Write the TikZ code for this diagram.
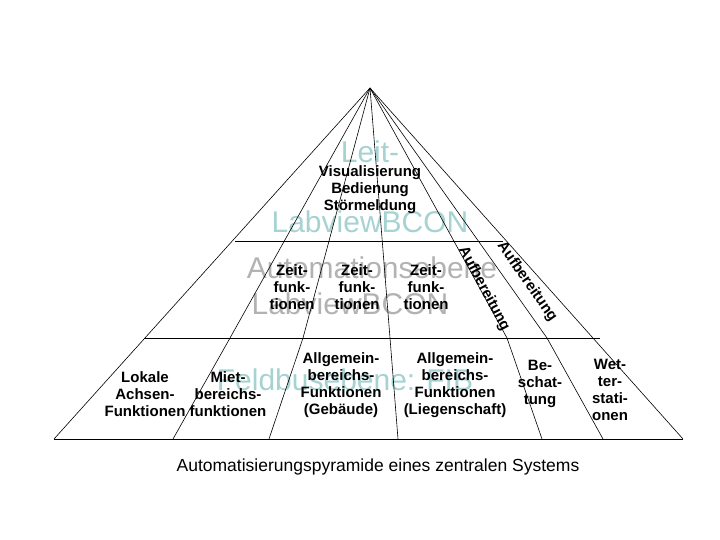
\documentclass[tikz,border=0pt]{standalone}
\usepackage{fontspec}
\setmainfont{Liberation Sans}
\begin{document}
\begin{tikzpicture}[x=1pt,y=-1pt,
  ln/.style={black,line width=0.6pt},
  bt/.style={font=\fontsize{15}{17}\selectfont\bfseries,align=center,inner sep=0},
  wmT/.style={text=teal!35,font=\fontsize{30}{30}\selectfont,inner sep=0},
  wmG/.style={text=black!30,font=\fontsize{30}{30}\selectfont,inner sep=0}]
\useasboundingbox (0,0) rectangle (720,540);
% watermarks
\node[wmT] (w1) at (370,152) {Leit-};
\node[wmT] (w2) at (370,222) {LabviewBCON};
\node[wmG] (w3) at (372,268) {Automationsebene};
\node[wmG] (w4) at (350,304) {LabviewBCON};
\node[wmT] (w5) at (345,380) {Feldbusebene: FIB};
% pyramid
\coordinate (A) at (370,88);
\coordinate (L1) at (235,241); \coordinate (R1) at (503,241);
\coordinate (L2) at (144,338); \coordinate (R2) at (600,338);
\coordinate (L3) at (54,439); \coordinate (R3) at (683,439);
\foreach \t/\b [count=\i] in {230/173,303/269,390/398,507/542,547/603}{
  \coordinate (m\i) at (\t,338); \coordinate (b\i) at (\b,439);
  \draw[ln] (A) -- (m\i) -- (b\i);}
\draw[ln] (L3) -- (A) -- (R3);
\draw[ln] (L1) -- (R1);
\draw[ln] (L2) -- (R2);
\draw[ln] (L3) -- (R3);
% texts
\node[bt] (t1) at (370,190) {Visualisierung\\Bedienung\\Störmeldung};
\node[bt] (t2) at (292,287) {Zeit-\\funk-\\tionen};
\node[bt] (t3) at (357,287) {Zeit-\\funk-\\tionen};
\node[bt] (t4) at (426,287) {Zeit-\\funk-\\tionen};
\node[bt,rotate=-62] (t5) at (484,289) {Aufbereitung};
\node[bt,rotate=-55] (t6) at (527,282) {Aufbereitung};
\node[bt] (t7) at (145,394) {Lokale\\Achsen-\\Funktionen};
\node[bt] (t8) at (228,394) {Miet-\\bereichs-\\funktionen};
\node[bt] (t9) at (341,385) {Allgemein-\\bereichs-\\Funktionen\\(Gebäude)};
\node[bt] (t10) at (455,385) {Allgemein-\\bereichs-\\Funktionen\\(Liegenschaft)};
\node[bt] (t11) at (540,384) {Be-\\schat-\\tung};
\node[bt] (t12) at (610,390) {Wet-\\ter-\\stati-\\onen};
\node[font=\fontsize{17.5}{20}\selectfont,inner sep=0] (cap) at (378,467) {Automatisierungspyramide eines zentralen Systems};
\end{tikzpicture}
\end{document}
